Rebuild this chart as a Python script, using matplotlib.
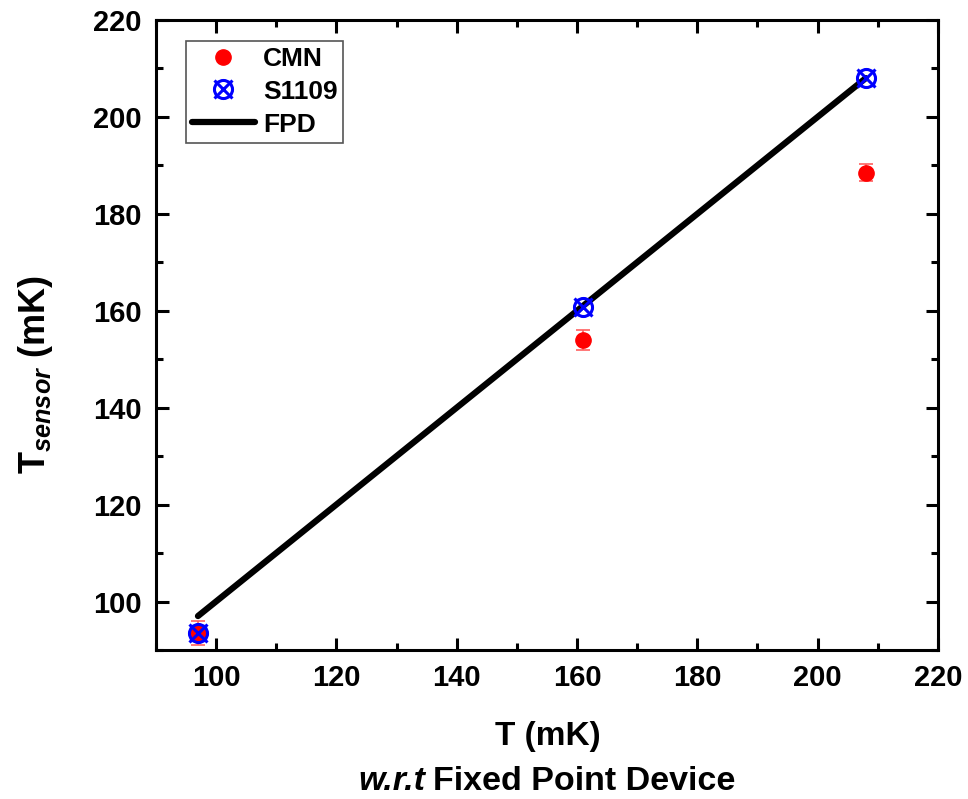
import matplotlib
matplotlib.use("Agg")
import matplotlib.pyplot as plt
from matplotlib.legend_handler import HandlerTuple
from matplotlib.ticker import MultipleLocator

plt.rcParams['font.family'] = ['Liberation Sans', 'DejaVu Sans']
plt.rcParams['font.weight'] = 'bold'
plt.rcParams['mathtext.fontset'] = 'custom'
plt.rcParams['mathtext.rm'] = 'Liberation Sans:bold'
plt.rcParams['mathtext.it'] = 'Liberation Sans:bold:italic'
plt.rcParams['mathtext.bf'] = 'Liberation Sans:bold'

# Data
cmn_x = [97, 161, 208]
cmn_y = [93.5, 154.0, 188.5]
cmn_err = [2.5, 2.0, 1.7]
s1109_x = [97, 161, 208]
s1109_y = [93.5, 160.7, 208.0]
fpd_x = [97, 208]
fpd_y = [97, 208]

fig = plt.figure(figsize=(9.68, 7.99), dpi=100)
ax = fig.add_axes([0.161, 0.1865, 0.808, 0.7885])

line_fpd, = ax.plot(fpd_x, fpd_y, color='black', lw=4.5, solid_capstyle='round', zorder=2)
ax.errorbar(cmn_x, cmn_y, yerr=cmn_err, fmt='none', ecolor='#ff6060', elinewidth=1.2,
            capsize=5, capthick=1.2, zorder=3)
h_cmn, = ax.plot(cmn_x, cmn_y, 'o', color='red', ms=11, mec='red', zorder=4, linestyle='none')
h_s1, = ax.plot(s1109_x, s1109_y, 'o', mfc='none', mec='blue', mew=2.2, ms=13, linestyle='none', zorder=5)
h_s2, = ax.plot(s1109_x, s1109_y, 'x', color='blue', mew=2.2, ms=13, linestyle='none', zorder=5)

ax.set_xlim(90, 220)
ax.set_ylim(90, 220)
ax.xaxis.set_major_locator(MultipleLocator(20))
ax.xaxis.set_minor_locator(MultipleLocator(10))
ax.yaxis.set_major_locator(MultipleLocator(20))
ax.yaxis.set_minor_locator(MultipleLocator(10))
ax.tick_params(which='both', direction='in', top=True, right=True, width=2.2)
ax.tick_params(which='major', length=9, labelsize=21, pad=10)
ax.tick_params(which='minor', length=5)
for lab in ax.get_xticklabels() + ax.get_yticklabels():
    lab.set_fontweight('bold')
for sp in ax.spines.values():
    sp.set_linewidth(2.2)

fig.text(0.037, 0.531, r'T$_{\it sensor}$ (mK)', rotation=90, ha='center', va='center',
         fontsize=26, fontweight='bold')

fig.text(0.566, 0.0776, 'T (mK)', ha='center', va='center', fontsize=24, fontweight='bold')
fig.text(0.439, 0.0213, 'w.r.t', ha='right', va='center', fontsize=24.5, fontweight='bold',
         fontstyle='italic')
fig.text(0.447, 0.0213, 'Fixed Point Device', ha='left', va='center', fontsize=24.5,
         fontweight='bold')

leg = ax.legend([h_cmn, (h_s1, h_s2), line_fpd], ['CMN', 'S1109', 'FPD'],
                handler_map={tuple: HandlerTuple(ndivide=1, pad=0)},
                loc='upper left', bbox_to_anchor=(0.0384, 0.9667), borderaxespad=0,
                fancybox=False, edgecolor='#555555', framealpha=1,
                prop={'size': 19, 'weight': 'bold'},
                handlelength=2.4, borderpad=0.22, labelspacing=0.34, handletextpad=0.3)
leg.get_frame().set_linewidth(1.2)

fig.savefig('out.png', dpi=100)
